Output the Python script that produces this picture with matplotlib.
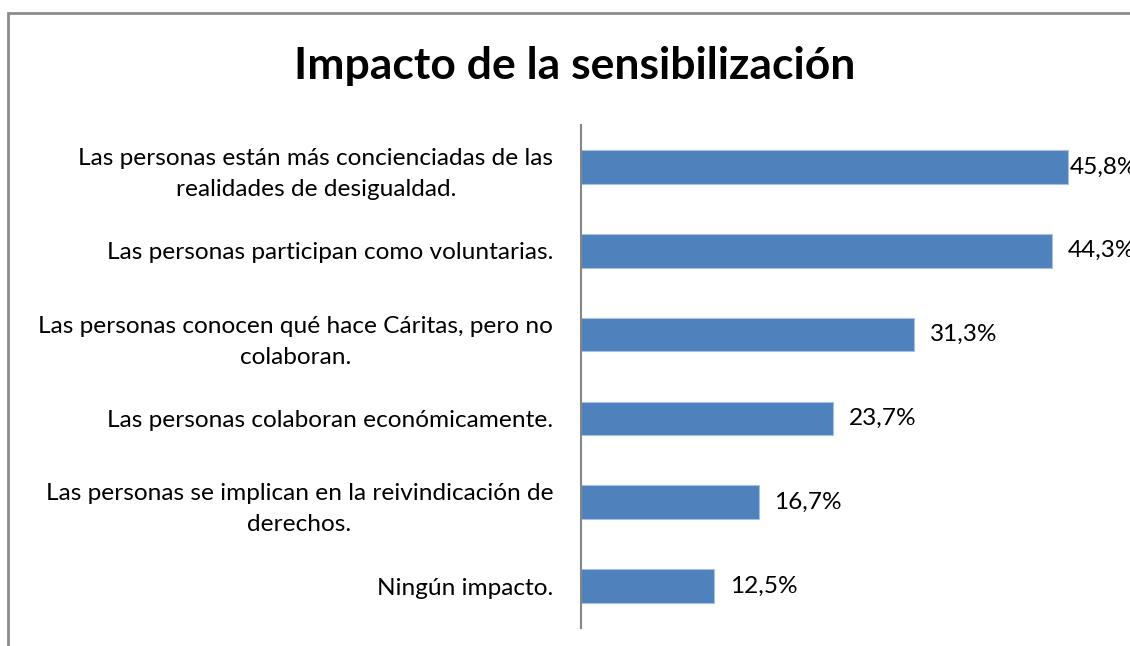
import matplotlib.pyplot as plt
from matplotlib.patches import Rectangle

categorias = [
    "Las personas están más concienciadas de las\nrealidades de desigualdad.",
    "Las personas participan como voluntarias.",
    "Las personas conocen qué hace Cáritas, pero no\ncolaboran.",
    "Las personas colaboran económicamente.",
    "Las personas se implican en la reivindicación de\nderechos.",
    "Ningún impacto.",
]
valores = [45.8, 44.3, 31.3, 23.7, 16.7, 12.5]
etiquetas = ["45,8%", "44,3%", "31,3%", "23,7%", "16,7%", "12,5%"]

plt.rcParams['font.family'] = ['Lato', 'DejaVu Sans']

fig = plt.figure(figsize=(11.3, 6.46), dpi=100)

# marco gris del gráfico (se sale por la derecha y por abajo)
fig.patches.append(Rectangle((8 / 1130, -0.05), 1.1, 1 - 13 / 646 + 0.05,
                             transform=fig.transFigure, fill=False,
                             edgecolor='#8c8c8c', linewidth=2.0))

fig.text(575 / 1130, 1 - 66 / 646, "Impacto de la sensibilización",
         ha='center', va='center', fontsize=32, fontweight='bold')

ax = fig.add_axes([581 / 1130, 1 - 628 / 646, 1 - 581 / 1130, (628 - 125) / 646])
y = list(range(len(valores)))
ax.barh(y, valores, height=0.4, color='#4F81BD', edgecolor='#a7c0de', linewidth=0.8)
ax.set_ylim(len(valores) - 0.5, -0.5)
ax.set_xlim(0, 51.65)

ax.set_yticks(y)
ax.set_yticklabels(categorias, fontsize=17.6, multialignment='center', linespacing=1.6)
ax.tick_params(axis='y', length=0, pad=20)
ax.set_xticks([])

for s in ['top', 'right', 'bottom']:
    ax.spines[s].set_visible(False)
ax.spines['left'].set_color('#868686')
ax.spines['left'].set_linewidth(1.5)

for i, (v, t) in enumerate(zip(valores, etiquetas)):
    off = 0.2 if i == 0 else 1.5
    ax.text(v + off, i, t, va='center', ha='left', fontsize=17.6, clip_on=False)

fig.savefig('out.png', dpi=100)
